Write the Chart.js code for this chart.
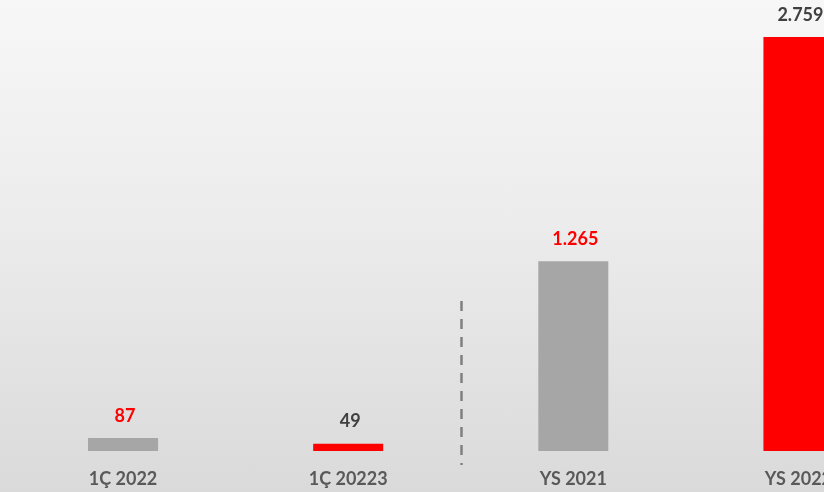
<!DOCTYPE html>
<html>
<head>
<meta charset="utf-8">
<script src="https://cdn.jsdelivr.net/npm/chart.js@4"></script>
<style>
  html, body { margin: 0; padding: 0; overflow: hidden; }
  body {
    width: 824px;
    height: 492px;
    background: linear-gradient(to bottom, #f7f7f7 0%, #ececec 45%, #dadada 100%);
  }
  #wrap { width: 911px; height: 492px; position: relative; }
</style>
</head>
<body>
<div id="wrap"><canvas id="chart"></canvas></div>
<script>
const categories = ["1Ç 2022", "1Ç 20223", "YS 2021", "YS 2022"];
const values = [87, 49, 1265, 2759];
const barColors = ["#a6a6a6", "#ff0000", "#a6a6a6", "#ff0000"];
const labelColors = ["#ff0000", "#404040", "#ff0000", "#404040"];

function fmt(v) {
  return String(v).replace(/\B(?=(\d{3})+(?!\d))/g, ".");
}

// value labels above each bar
const valueLabels = {
  id: "valueLabels",
  afterDatasetsDraw(chart) {
    const ctx = chart.ctx;
    const meta = chart.getDatasetMeta(0);
    ctx.save();
    ctx.font = "bold 18px Lato";
    ctx.textAlign = "center";
    ctx.textBaseline = "middle";
    meta.data.forEach((bar, i) => {
      ctx.fillStyle = labelColors[i];
      ctx.fillText(fmt(values[i]), bar.x + 2, bar.y - 22);
    });
    ctx.restore();
  },
};

// dashed separator between quarter and full-year bars
const separator = {
  id: "separator",
  afterDatasetsDraw(chart) {
    const ctx = chart.ctx;
    const xs = chart.scales.x;
    const ys = chart.scales.y;
    const x = Math.round((xs.getPixelForValue(1) + xs.getPixelForValue(2)) / 2) + 0.5;
    ctx.save();
    ctx.strokeStyle = "#808080";
    ctx.lineWidth = 2.5;
    ctx.setLineDash([10, 8]);
    ctx.beginPath();
    ctx.moveTo(x, ys.getPixelForValue(1000));
    ctx.lineTo(x, ys.bottom + 14);
    ctx.stroke();
    ctx.restore();
  },
};

new Chart(document.getElementById("chart"), {
  type: "bar",
  data: {
    labels: categories,
    datasets: [
      {
        data: values,
        backgroundColor: barColors,
        borderWidth: 0,
        barPercentage: 0.311,
        categoryPercentage: 1,
      },
    ],
  },
  options: {
    responsive: true,
    maintainAspectRatio: false,
    animation: false,
    layout: { padding: { left: 10.5, right: 0, top: 0, bottom: 0 } },
    plugins: {
      legend: { display: false },
      tooltip: { enabled: false },
    },
    scales: {
      x: {
        grid: { display: false, drawTicks: false },
        border: { display: false },
        afterFit(scale) {
          scale.height = 41;
        },
        ticks: {
          color: "#595959",
          padding: 17,
          font: { family: "Lato", size: 18, weight: "bold" },
        },
      },
      y: {
        display: false,
        min: 0,
        max: 3005,
      },
    },
  },
  plugins: [valueLabels, separator],
});
</script>
</body>
</html>
